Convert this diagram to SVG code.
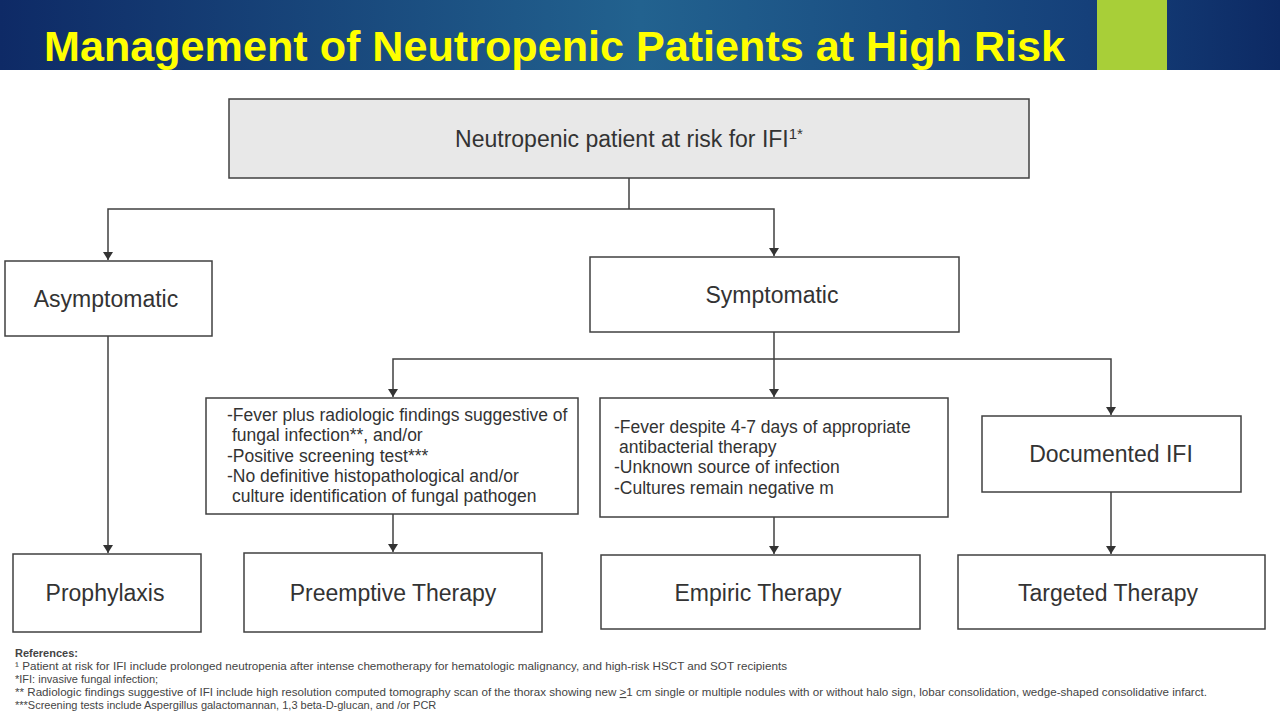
<svg xmlns="http://www.w3.org/2000/svg" width="1280" height="720" viewBox="0 0 1280 720">
<defs>
<linearGradient id="hdr" x1="0" y1="0" x2="1" y2="0">
<stop offset="0" stop-color="#0e2a66"/>
<stop offset="0.5" stop-color="#22628f"/>
<stop offset="0.85" stop-color="#15407a"/>
<stop offset="1" stop-color="#0d2a64"/>
</linearGradient>
<marker id="ah" markerWidth="10" markerHeight="10" refX="9" refY="5" orient="auto" markerUnits="userSpaceOnUse" viewBox="0 0 10 10">
<path d="M1,0 L9,5 L1,10 Z" fill="#333"/>
</marker>
<style>
.box{fill:#fff;stroke:#404040;stroke-width:1.5}
.top{fill:#e8e8e8;stroke:#404040;stroke-width:1.5}
.t{font-family:"Liberation Sans",Arial,sans-serif;fill:#333;font-size:23px;text-anchor:middle}
.b{font-family:"Liberation Sans",Arial,sans-serif;fill:#333;font-size:23px;text-anchor:middle}
.s{font-family:"Liberation Sans",Arial,sans-serif;fill:#333;font-size:17.5px}
.r{font-family:"Liberation Sans",Arial,sans-serif;fill:#444;font-size:11px}
.ln{fill:none;stroke:#404040;stroke-width:1.5}
.ar{fill:none;stroke:#404040;stroke-width:1.5;marker-end:url(#ah)}
</style>
</defs>
<rect width="1280" height="720" fill="#fff"/>
<g id="header">
<rect x="0" y="0" width="1280" height="70" fill="url(#hdr)"/>
<rect x="1097" y="0" width="70" height="70" fill="#a8cf38"/>
<text x="44" y="61" font-family="'Liberation Sans',Arial,sans-serif" font-weight="bold" font-size="43" fill="#ffff00" textLength="1021" lengthAdjust="spacingAndGlyphs">Management of Neutropenic Patients at High Risk</text>
</g>
<g id="connectors">
<polyline class="ln" points="629,178 629,209"/>
<polyline class="ar" points="629,209 108,209 108,260"/>
<polyline class="ar" points="629,209 774,209 774,256"/>
<polyline class="ar" points="108,336 108,553"/>
<polyline class="ln" points="774,332 774,359"/>
<polyline class="ar" points="774,359 393,359 393,397"/>
<polyline class="ar" points="774,359 774,397"/>
<polyline class="ar" points="774,359 1111,359 1111,415"/>
<polyline class="ar" points="393,514 393,552"/>
<polyline class="ar" points="774,517 774,554"/>
<polyline class="ar" points="1111,492 1111,554"/>
</g>
<g id="root">
<rect class="top" x="229" y="99" width="800" height="79"/>
<text class="t" x="629" y="147">Neutropenic patient at risk for IFI<tspan font-size="15" dy="-8">1*</tspan></text>
</g>
<g id="asymptomatic">
<rect class="box" x="5" y="261" width="207" height="75"/>
<text class="t" x="106" y="307">Asymptomatic</text>
</g>
<g id="symptomatic">
<rect class="box" x="590" y="257" width="369" height="75"/>
<text class="t" x="772" y="303">Symptomatic</text>
</g>
<g id="preemptive-criteria">
<rect class="box" x="206" y="398" width="372" height="116"/>
<text class="s" x="227" y="421">-Fever plus radiologic findings suggestive of</text>
<text class="s" x="232" y="441">fungal infection**, and/or</text>
<text class="s" x="227" y="462">-Positive screening test***</text>
<text class="s" x="227" y="482">-No definitive histopathological and/or</text>
<text class="s" x="232" y="502">culture identification of fungal pathogen</text>
</g>
<g id="empiric-criteria">
<rect class="box" x="600" y="398" width="348" height="119"/>
<text class="s" x="614" y="433">-Fever despite 4-7 days of appropriate</text>
<text class="s" x="619" y="453">antibacterial therapy</text>
<text class="s" x="614" y="473">-Unknown source of infection</text>
<text class="s" x="614" y="494">-Cultures remain negative m</text>
</g>
<g id="documented">
<rect class="box" x="982" y="416" width="259" height="76"/>
<text class="t" x="1111" y="462">Documented IFI</text>
</g>
<g id="prophylaxis">
<rect class="box" x="13" y="554" width="188" height="78"/>
<text class="b" x="105" y="601">Prophylaxis</text>
</g>
<g id="preemptive">
<rect class="box" x="244" y="553" width="298" height="79"/>
<text class="b" x="393" y="601">Preemptive Therapy</text>
</g>
<g id="empiric">
<rect class="box" x="601" y="555" width="319" height="74"/>
<text class="b" x="758" y="601">Empiric Therapy</text>
</g>
<g id="targeted">
<rect class="box" x="958" y="555" width="307" height="74"/>
<text class="b" x="1108" y="601">Targeted Therapy</text>
</g>
<g id="references">
<text class="r" x="15" y="657" font-weight="bold">References:</text>
<text class="r" x="15" y="670" textLength="772" lengthAdjust="spacingAndGlyphs">¹ Patient at risk for IFI include prolonged neutropenia after intense chemotherapy for hematologic malignancy, and high-risk HSCT and SOT recipients</text>
<text class="r" x="15" y="683">*IFI: invasive fungal infection;</text>
<text class="r" x="15" y="696" textLength="1192" lengthAdjust="spacingAndGlyphs">** Radiologic findings suggestive of IFI include high resolution computed tomography scan of the thorax showing new <tspan text-decoration="underline">&gt;</tspan>1 cm single or multiple nodules with or without halo sign, lobar consolidation, wedge-shaped consolidative infarct.</text>
<text class="r" x="15" y="709">***Screening tests include Aspergillus galactomannan, 1,3 beta-D-glucan, and /or PCR</text>
</g>
</svg>
